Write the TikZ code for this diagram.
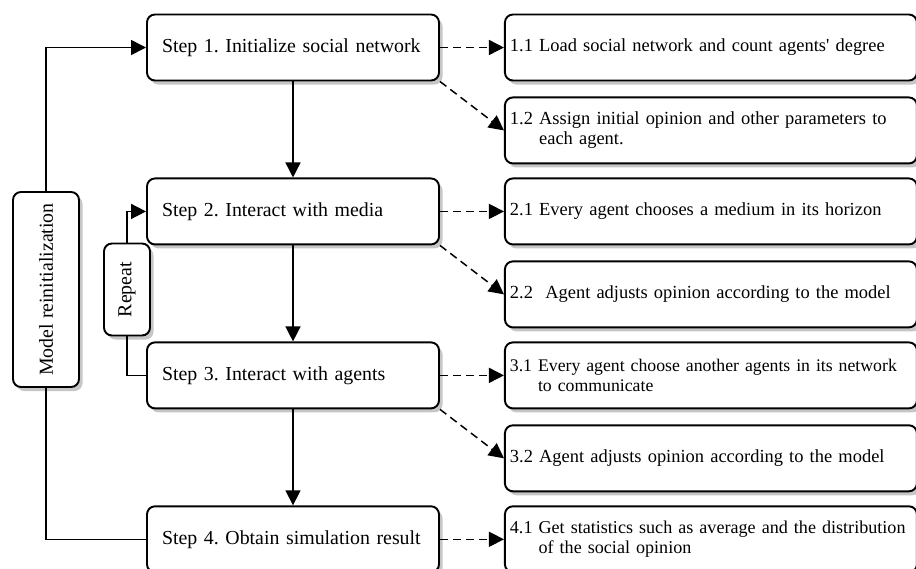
\documentclass[tikz,border=0pt]{standalone}
\usepackage{fontspec}
\setmainfont{Liberation Serif}
\usetikzlibrary{arrows.meta, positioning, shadows}
\frenchspacing

\begin{document}
\begin{tikzpicture}[
  stepbox/.style={draw, line width=1.1pt, rounded corners=0.16cm, fill=white,
    drop shadow={shadow xshift=0.07cm, shadow yshift=-0.08cm, opacity=0.45},
    font=\fontsize{11.3pt}{11.6pt}\selectfont,
    minimum height=1.32cm, inner xsep=0.3cm, text width=5.24cm, align=left},
  subbox/.style={stepbox, font=\fontsize{10.5pt}{11.4pt}\selectfont,
    inner xsep=0.1cm, text width=8.04cm},
  sidebox/.style={draw, line width=1.1pt, rounded corners=0.16cm, fill=white,
    drop shadow={shadow xshift=0.07cm, shadow yshift=-0.08cm, opacity=0.45},
    font=\fontsize{11.3pt}{11.6pt}\selectfont, inner sep=2pt},
  flow/.style={line width=0.85pt, -{Triangle[length=0.3cm, width=0.3cm]}},
  link/.style={line width=0.85pt},
  hint/.style={flow, dash pattern=on 0.16cm off 0.1cm}
]
\useasboundingbox (0,0) rectangle (18.32,-11.36);

% main steps
\node[stepbox] (s1) at (5.86,-0.95) {Step 1. Initialize social network};
\node[stepbox, below=1.92cm of s1] (s2) {Step 2. Interact with media};
\node[stepbox, below=1.92cm of s2] (s3) {Step 3. Interact with agents};
\node[stepbox, below=1.92cm of s3] (s4) {Step 4. Obtain simulation result};

% sub steps
\node[subbox, right=1.28cm of s1] (r11) {1.1 Load social network and count agents\textquotesingle{} degree};
\node[subbox, below=0.3cm of r11] (r12) {1.2 Assign initial opinion and other parameters to\\\phantom{1.2\ }each agent.};
\node[subbox, right=1.28cm of s2] (r21) {2.1 Every agent chooses a medium in its horizon};
\node[subbox, below=0.3cm of r21] (r22) {2.2\ \ Agent adjusts opinion according to the model};
\node[subbox, right=1.28cm of s3, font=\fontsize{10.1pt}{11.4pt}\selectfont] (r31) {3.1 Every agent choose another agents in its network\\\phantom{3.1\ }to communicate};
\node[subbox, below=0.3cm of r31] (r32) {3.2 Agent adjusts opinion according to the model};
\node[subbox, right=1.28cm of s4, font=\fontsize{10.3pt}{11.4pt}\selectfont] (r41) {4.1 Get statistics such as average and the distribution\\\phantom{4.1\ }of the social opinion};

% loops
\node[sidebox, minimum width=1.32cm, minimum height=3.9cm] (reinit) at (0.92,-5.79) {\rotatebox{90}{Model reinitialization}};
\node[sidebox, minimum width=0.92cm, minimum height=1.84cm] (rep) at (2.54,-5.79) {\rotatebox{90}{Repeat}};

\draw[flow] (s1.south) -- (s2.north);
\draw[flow] (s2.south) -- (s3.north);
\draw[flow] (s3.south) -- (s4.north);

\draw[flow] (reinit.north) |- (s1.west);
\draw[link] (s4.west) -| (reinit.south);
\draw[flow] (rep.north) |- (s2.west);
\draw[link] (s3.west) -| (rep.south);

\draw[hint] (s1.east) -- (r11.west);
\draw[hint] (s1.south east) -- (r12.west);
\draw[hint] (s2.east) -- (r21.west);
\draw[hint] (s2.south east) -- (r22.west);
\draw[hint] (s3.east) -- (r31.west);
\draw[hint] (s3.south east) -- (r32.west);
\draw[hint] (s4.east) -- (r41.west);
\end{tikzpicture}
\end{document}
